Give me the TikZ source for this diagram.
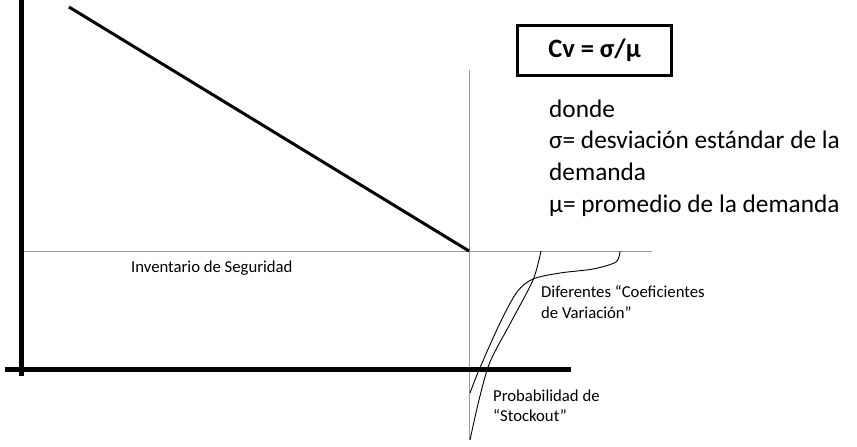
\documentclass[tikz,border=0pt]{standalone}
\usepackage{fontspec}
\setmainfont{Carlito}

\begin{document}
\begin{tikzpicture}[x=1pt,y=-1pt,
    axis/.style={line width=5pt},
    guide/.style={gray!80,line width=0.9pt},
    curve/.style={line width=0.9pt},
    small/.style={font=\fontsize{16.7}{20}\selectfont,anchor=base west,inner sep=0pt},
    big/.style={font=\fontsize{25.3}{30}\selectfont,anchor=base west,inner sep=0pt}]
    \useasboundingbox(0,0)rectangle(857,447);
    \draw[guide](21,251)--(652,251);
    \draw[guide](469,70)--(469,440);
    \draw[axis](21,0)--(21,376);
    \draw[axis](5,369)--(571,369);
    \draw[line width=3pt](69,7)--(469,251);
    \draw[curve]plot[smooth]coordinates{(541,251)(533,280)(511,322)(490,362)(479,400)(470,440)};
    \draw[curve]plot[smooth]coordinates{(620,251)(616,262)(593,269)(560,273)(533,279)(517,292)(500,323)(479,370)(470,393)};
    \node[draw,line width=3pt,minimum width=154pt,minimum height=50pt,font=\fontsize{26.5}{30}\selectfont\bfseries](cv)at(594.5,50.5){Cv = σ/μ};
    \node[big](donde)at(549,117){donde};
    \node[big](sigma)at(549,148){σ= desviación estándar de la};
    \node[big](dem)at(549,180){demanda};
    \node[big](mu)at(549,212){μ= promedio de la demanda};
    \node[small](inv)at(131,272){Inventario de Seguridad};
    \node[small](cf1)at(541,297){Diferentes “Coeficientes};
    \node[small](cf2)at(541,318){de Variación”};
    \node[small](pr1)at(493,401){Probabilidad de};
    \node[small](pr2)at(493,421){“Stockout”};
\end{tikzpicture}
\end{document}
